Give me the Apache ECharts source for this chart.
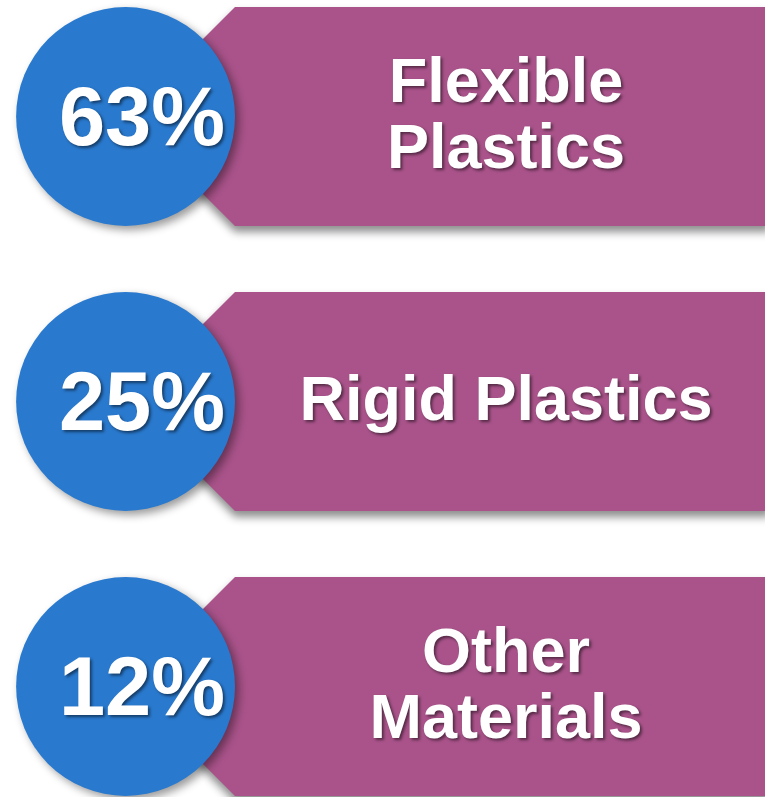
<!DOCTYPE html>
<html>
<head>
<meta charset="utf-8">
<script src="https://cdn.jsdelivr.net/npm/echarts@6/dist/echarts.min.js"></script>
<style>
  html, body { margin: 0; padding: 0; background: #fff; }
  #main { width: 765px; height: 797px; }
</style>
</head>
<body>
<div id="main"></div>
<script>
// data
var categories = ['Flexible Plastics', 'Rigid Plastics', 'Other Materials']
var percents = [63, 25, 12]
var labels = ['Flexible\nPlastics', 'Rigid Plastics', 'Other\nMaterials']

var BLUE = '#2979CE'
var PINK = '#A9538A'
var FONT = '"Liberation Sans", Arial, sans-serif'

var chart = echarts.init(document.getElementById('main'))

function renderItem(params, api) {
  var idx = api.value(0)
  var center = api.coord([0, idx])
  var cy = center[1]
  var band = api.size([0, 1])[1]
  var h = band * 0.384
  var panelLeft = api.coord([235, idx])[0]
  var panelRight = api.coord([770, idx])[0]
  var cx = panelLeft - h
  var textX = api.coord([506, idx])[0]
  var pctX = api.coord([142, idx])[0]

  return {
    type: 'group',
    children: [{
      type: 'polygon',
      shape: {
        points: [
          [panelLeft, cy - h], [panelRight, cy - h], [panelRight, cy + h],
          [panelLeft, cy + h], [cx, cy]
        ]
      },
      style: {
        fill: PINK,
        shadowBlur: 8,
        shadowColor: 'rgba(0,0,0,0.45)',
        shadowOffsetY: 6
      }
    }, {
      type: 'circle',
      shape: { cx: cx, cy: cy, r: h },
      style: {
        fill: BLUE,
        shadowBlur: 8,
        shadowColor: 'rgba(0,0,0,0.4)',
        shadowOffsetX: 4,
        shadowOffsetY: 4
      }
    }, {
      type: 'text',
      style: {
        x: pctX,
        y: cy + 6,
        text: api.value(1) + '%',
        fill: '#fff',
        font: 'bold 83px ' + FONT,
        align: 'center',
        verticalAlign: 'middle',
        textShadowColor: 'rgba(0,0,0,0.5)',
        textShadowBlur: 3,
        textShadowOffsetX: 2,
        textShadowOffsetY: 2
      }
    }, {
      type: 'text',
      style: {
        x: textX,
        y: cy + 1,
        text: labels[idx],
        fill: '#fff',
        font: 'bold 63px ' + FONT,
        lineHeight: 66,
        align: 'center',
        verticalAlign: 'middle',
        textShadowColor: 'rgba(0,0,0,0.5)',
        textShadowBlur: 3,
        textShadowOffsetX: 2,
        textShadowOffsetY: 2
      }
    }]
  }
}

var option = {
  animation: false,
  grid: {
    left: 0,
    right: 0,
    top: -26,
    height: 855,
    outerBoundsMode: 'none',
    containLabel: false
  },
  xAxis: {
    type: 'value',
    min: 0,
    max: 765,
    show: false
  },
  yAxis: {
    type: 'category',
    data: categories,
    inverse: true,
    show: false
  },
  series: [{
    type: 'custom',
    renderItem: renderItem,
    clip: false,
    data: percents.map(function (p, i) { return [i, p] }),
    encode: { x: -1, y: 0 }
  }]
}

chart.setOption(option)
</script>
</body>
</html>
